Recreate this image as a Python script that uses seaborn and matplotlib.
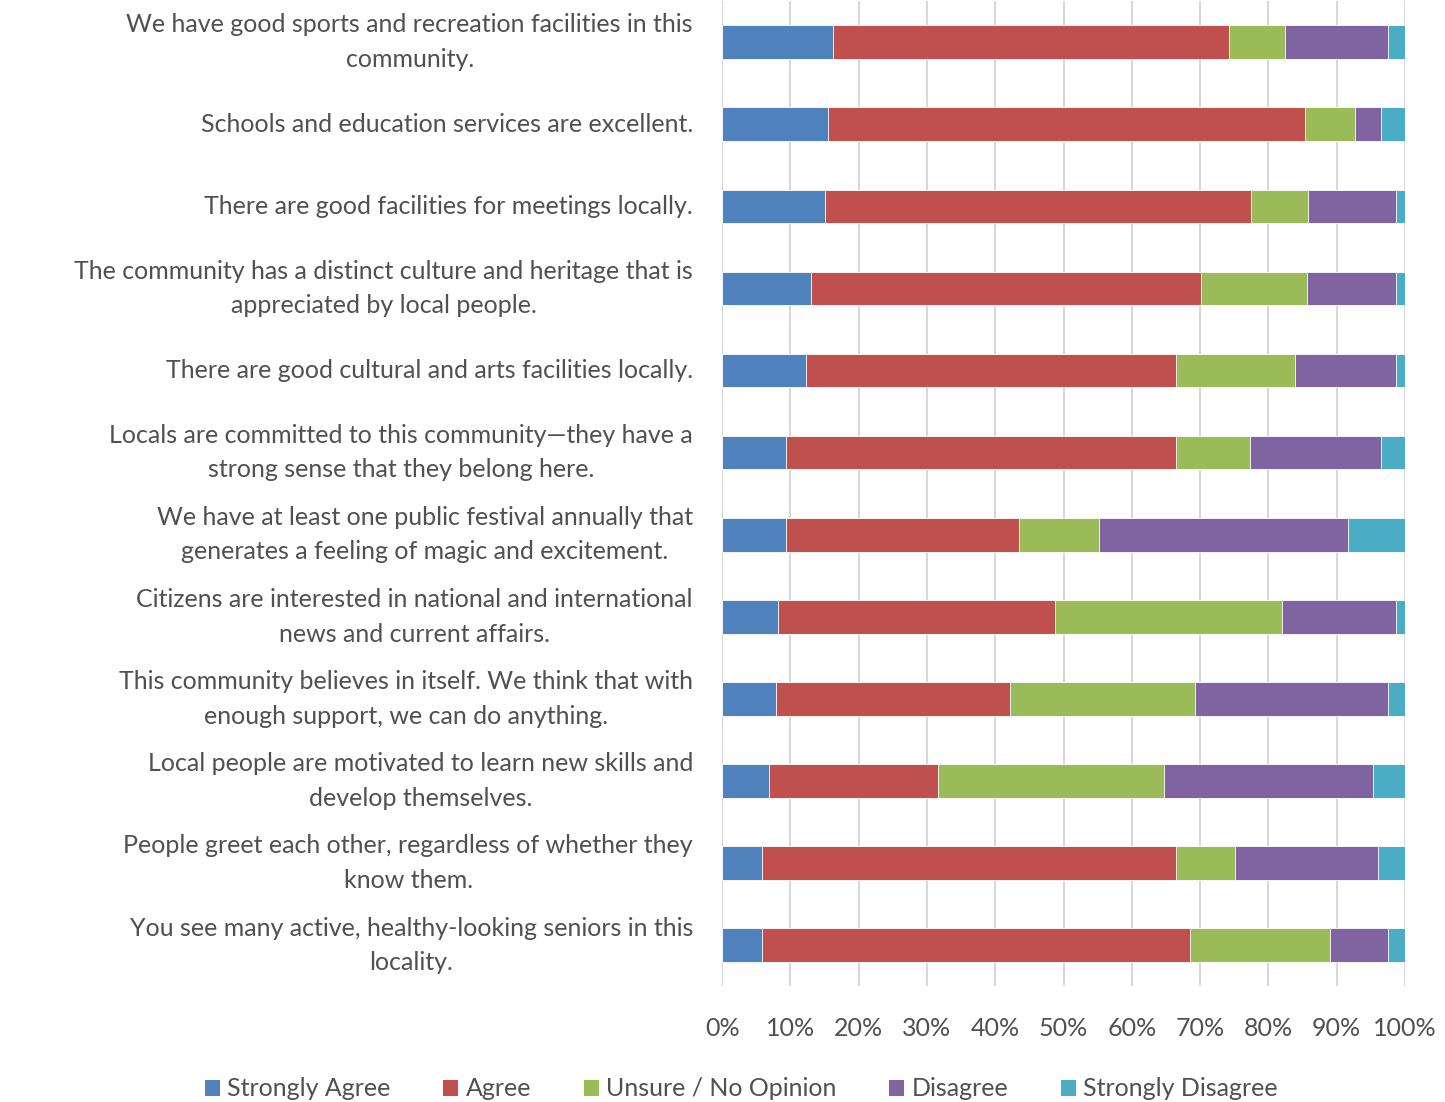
import numpy as np
import pandas as pd
import matplotlib
matplotlib.use("Agg")
import matplotlib.pyplot as plt
import seaborn as sns
from matplotlib.patches import Patch

# Survey statements (top to bottom)
statements = [
    "We have good sports and recreation facilities in this\ncommunity.",
    "Schools and education services are excellent.",
    "There are good facilities for meetings locally.",
    "The community has a distinct culture and heritage that is\nappreciated by local people.",
    "There are good cultural and arts facilities locally.",
    "Locals are committed to this community\u2014they have a\nstrong sense that they belong here.",
    "We have at least one public festival annually that\ngenerates a feeling of magic and excitement.",
    "Citizens are interested in national and international\nnews and current affairs.",
    "This community believes in itself. We think that with\nenough support, we can do anything.",
    "Local people are motivated to learn new skills and\ndevelop themselves.",
    "People greet each other, regardless of whether they\nknow them.",
    "You see many active, healthy-looking seniors in this\nlocality.",
]

categories = ["Strongly Agree", "Agree", "Unsure / No Opinion", "Disagree", "Strongly Disagree"]

# Percentages
strongly_agree = [16.3, 15.5, 15.1, 13.0, 12.3, 9.4, 9.4, 8.2, 7.9, 6.9, 5.9, 5.9]
agree = [57.9, 69.9, 62.4, 57.1, 54.2, 57.1, 34.1, 40.6, 34.3, 24.7, 60.6, 62.6]
unsure = [8.2, 7.3, 8.3, 15.6, 17.4, 10.8, 11.7, 33.2, 27.1, 33.1, 8.6, 20.5]
disagree = [15.1, 3.8, 12.9, 13.0, 14.8, 19.2, 36.5, 16.7, 28.2, 30.6, 20.9, 8.5]
strongly_disagree = [2.5, 3.5, 1.3, 1.3, 1.3, 3.5, 8.3, 1.3, 2.5, 4.7, 4.0, 2.5]

colors = ["#4F81BD", "#C0504D", "#9BBB59", "#8064A2", "#4BACC6"]

sns.set_theme(style="white")
plt.rcParams["font.family"] = ["Lato", "DejaVu Sans"]
text_color = "#505050"

df = pd.DataFrame({
    "statement": statements,
    "Strongly Agree": strongly_agree,
    "Agree": agree,
    "Unsure / No Opinion": unsure,
    "Disagree": disagree,
    "Strongly Disagree": strongly_disagree,
})
vals = df[categories]
cum = vals.cumsum(axis=1)
cum = cum.div(cum[categories[-1]], axis=0) * 100

fig, ax = plt.subplots(figsize=(14.45, 11.02), dpi=100)
fig.subplots_adjust(left=0.4997, right=0.9723, top=0.999, bottom=0.105)

# draw cumulative totals from the widest down so they stack visually
for cat, col in reversed(list(zip(categories, colors))):
    sns.barplot(data=df.assign(val=cum[cat]), x="val", y="statement", orient="h",
                color=col, width=0.41, ax=ax, edgecolor="white", linewidth=0.6,
                saturation=1, zorder=3)

ax.set_xlim(0, 100)
ax.set_xticks(np.arange(0, 101, 10))
ax.set_xticklabels([f"{t}%" for t in range(0, 101, 10)])
ax.xaxis.grid(True, color="#D4D4D4", linewidth=1.3, zorder=0)
ax.set_axisbelow(True)
ax.set_xlabel("")
ax.set_ylabel("")
for s in ax.spines.values():
    s.set_visible(False)
ax.axvline(0, color="#D4D4D4", linewidth=1.3, zorder=1)

ax.tick_params(axis="x", labelsize=18, colors=text_color, pad=22, length=0)
ax.tick_params(axis="y", labelsize=18, colors=text_color, pad=21, length=0)
for lab in ax.get_yticklabels():
    lab.set_multialignment("center")
    lab.set_linespacing(1.6)
    lab.set_verticalalignment("center")

handles = [Patch(facecolor=c, edgecolor="none") for c in colors]
fig.legend(handles, categories, loc="lower center", bbox_to_anchor=(0.513, -0.019),
           ncol=5, frameon=False, fontsize=18, handlelength=0.6, handleheight=0.6,
           handletextpad=0.3, columnspacing=2.1, labelcolor=text_color)

fig.savefig("out.png", dpi=100)
